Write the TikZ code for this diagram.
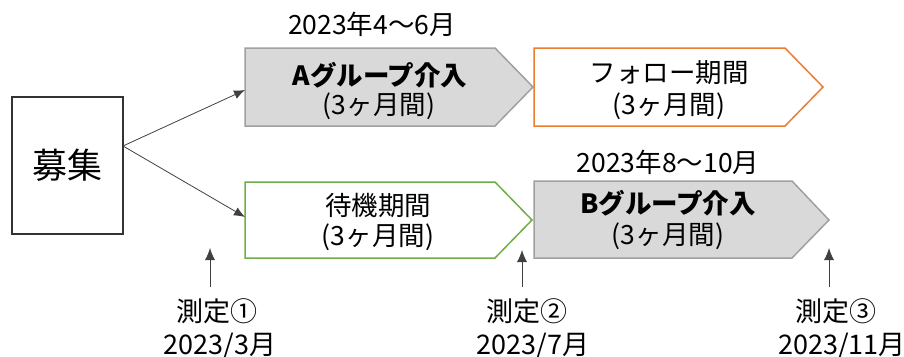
\documentclass[tikz,border=0pt]{standalone}
\usepackage{fontspec}
\newfontfamily\jp{Noto Sans CJK JP}
\usetikzlibrary{arrows.meta}
\definecolor{boxgray}{HTML}{D9D9D9}
\definecolor{edgegray}{HTML}{A0A0A0}
\definecolor{orng}{HTML}{ED7D31}
\definecolor{grn}{HTML}{70AD47}
\begin{document}
\begin{tikzpicture}[x=1pt,y=-1pt,
  font=\jp\fontsize{26.5}{30}\selectfont,
  lbl/.style={inner sep=0pt, align=center},
  bot/.style={inner sep=0pt, align=center, font=\jp\fontsize{27}{30}\selectfont},
  phase/.style={line width=1.5pt, line join=miter},
  conn/.style={draw=black!75, line width=0.8pt, -{Latex[length=11pt,width=9pt]}},
  meas/.style={draw=black!75, line width=0.8pt, -{Latex[length=12pt,width=10pt]}}]
\useasboundingbox (0,0) rectangle (904,356);

% recruitment box
\node[draw=black!80, line width=1.2pt, minimum width=111pt, minimum height=137pt, inner sep=0pt,
      font=\jp\fontsize{35}{38}\selectfont] (boshu) at (67.5,165.5) {募集};

% phase shapes
\draw[phase, fill=boxgray, draw=edgegray] (245,48) -- (495,48) -- (533,87) -- (495,126) -- (245,126) -- cycle;
\draw[phase, fill=white, draw=orng] (534,48) -- (785,48) -- (823,87) -- (785,126) -- (534,126) -- cycle;
\draw[phase, fill=white, draw=grn] (245,182) -- (495,182) -- (532,220) -- (495,258) -- (245,258) -- cycle;
\draw[phase, fill=boxgray, draw=edgegray] (534,181) -- (792,181) -- (829,220) -- (792,258) -- (534,258) -- cycle;

% texts
\node[lbl] (datea) at (372,24) {2023年4～6月};
\node[lbl] (atitle) at (380,75) {\bfseries Aグループ介入};
\node[lbl] (aperiod) at (379,106) {(3ヶ月間)};
\node[lbl] (ftitle) at (669,73) {フォロー期間};
\node[lbl] (fperiod) at (669,106) {(3ヶ月間)};
\node[lbl] (dateb) at (668,162) {2023年8～10月};
\node[lbl] (btitle) at (668,203) {\bfseries Bグループ介入};
\node[lbl] (bperiod) at (668,236) {(3ヶ月間)};
\node[lbl] (wtitle) at (378,205) {待機期間};
\node[lbl] (wperiod) at (378,237) {(3ヶ月間)};

% connectors from recruitment
\coordinate (src) at (123,146);
\coordinate (ain) at (245,90);
\coordinate (win) at (245,217);
\draw[conn] (src) -- (ain);
\draw[conn] (src) -- (win);

% measurements
\node[bot] (m1) at (217,311) {測定①};
\node[bot] (d1) at (220,346) {2023/3月};
\node[bot] (m2) at (527,311) {測定②};
\node[bot] (d2) at (533,346) {2023/7月};
\node[bot] (m3) at (836,311) {測定③};
\node[bot] (d3) at (842,346) {2023/11月};
\coordinate (m1b) at (210,287); \coordinate (m1t) at (210,248);
\coordinate (m2b) at (522,287); \coordinate (m2t) at (522,250);
\coordinate (m3b) at (829,287); \coordinate (m3t) at (829,248);
\draw[meas] (m1b) -- (m1t);
\draw[meas] (m2b) -- (m2t);
\draw[meas] (m3b) -- (m3t);
\end{tikzpicture}
\end{document}
